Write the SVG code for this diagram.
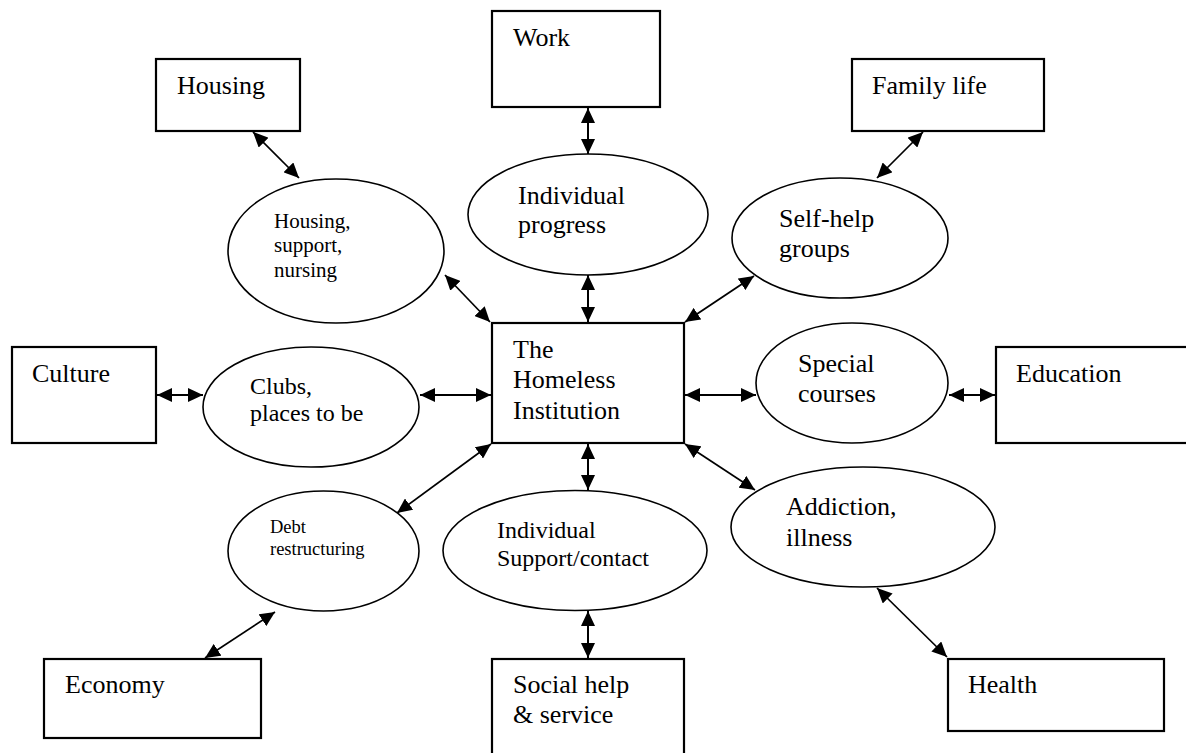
<svg xmlns="http://www.w3.org/2000/svg" width="1186" height="753" viewBox="0 0 1186 753" font-family="Liberation Serif, serif">
<style>
.box{fill:#fff;stroke:#000;stroke-width:2.2}
.ell{fill:#fff;stroke:#000;stroke-width:1.6}
.t26{font-family:"Liberation Serif",serif;font-size:26px;fill:#000}
.t24{font-family:"Liberation Serif",serif;font-size:24px;fill:#000}
.t21{font-family:"Liberation Serif",serif;font-size:21px;fill:#000}
.t18{font-family:"Liberation Serif",serif;font-size:18.5px;fill:#000}
.c{stroke:#000;stroke-width:2;fill:none;marker-start:url(#ah);marker-end:url(#ah)}
.d{stroke-width:1.7}
</style>
<defs>
<marker id="ah" markerUnits="userSpaceOnUse" markerWidth="16" markerHeight="14" refX="15" refY="7" orient="auto-start-reverse" viewBox="0 0 16 14">
<path d="M0,0 L15,7 L0,14 Z" fill="#000"/>
</marker>
</defs>
<rect width="1186" height="753" fill="#fff"/>
<g id="connectors">
<line class="c d" x1="253" y1="132" x2="299" y2="178"/>
<line class="c" x1="588" y1="108" x2="588" y2="154"/>
<line class="c d" x1="923" y1="132" x2="877" y2="178"/>
<line class="c d" x1="445" y1="275" x2="490" y2="322"/>
<line class="c" x1="588" y1="275" x2="588" y2="322"/>
<line class="c d" x1="754" y1="276" x2="685" y2="322"/>
<line class="c" x1="157" y1="395" x2="203" y2="395"/>
<line class="c" x1="420" y1="395" x2="491" y2="395"/>
<line class="c" x1="685" y1="395" x2="756" y2="395"/>
<line class="c" x1="949" y1="395" x2="995" y2="395"/>
<line class="c d" x1="491" y1="444" x2="397" y2="513"/>
<line class="c" x1="588" y1="444" x2="588" y2="490"/>
<line class="c d" x1="685" y1="444" x2="755" y2="490"/>
<line class="c d" x1="275" y1="612" x2="205" y2="658"/>
<line class="c" x1="588" y1="611" x2="588" y2="658"/>
<line class="c d" x1="877" y1="588" x2="947" y2="657"/>
</g>
<g id="housing">
<rect class="box" x="156" y="59" width="144" height="72"/>
<text class="t26" x="177" y="94">Housing</text>
</g>
<g id="work">
<rect class="box" x="492" y="11" width="168" height="96"/>
<text class="t26" x="513" y="46">Work</text>
</g>
<g id="family-life">
<rect class="box" x="852" y="59" width="192" height="72"/>
<text class="t26" x="872" y="94">Family life</text>
</g>
<g id="housing-support">
<ellipse class="ell" cx="336" cy="251" rx="108" ry="72"/>
<text class="t21" x="274" y="228">Housing,</text>
<text class="t21" x="274" y="252">support,</text>
<text class="t21" x="274" y="277">nursing</text>
</g>
<g id="individual-progress">
<ellipse class="ell" cx="588" cy="214.5" rx="120" ry="60.5"/>
<text class="t26" x="518" y="204">Individual</text>
<text class="t26" x="518" y="233">progress</text>
</g>
<g id="self-help">
<ellipse class="ell" cx="840" cy="238" rx="108" ry="60"/>
<text class="t26" x="779" y="227">Self-help</text>
<text class="t26" x="779" y="257">groups</text>
</g>
<g id="culture">
<rect class="box" x="12" y="347" width="144" height="96"/>
<text class="t26" x="32" y="382">Culture</text>
</g>
<g id="clubs">
<ellipse class="ell" cx="311" cy="407" rx="108" ry="60"/>
<text class="t24" x="250" y="394">Clubs,</text>
<text class="t24" x="250" y="421">places to be</text>
</g>
<g id="institution">
<rect class="box" x="492" y="323" width="192" height="120"/>
<text class="t26" x="513" y="358">The</text>
<text class="t26" x="513" y="388">Homeless</text>
<text class="t26" x="513" y="419">Institution</text>
</g>
<g id="special-courses">
<ellipse class="ell" cx="852" cy="383" rx="96" ry="60"/>
<text class="t26" x="798" y="372">Special</text>
<text class="t26" x="798" y="402">courses</text>
</g>
<g id="education">
<rect class="box" x="996" y="347" width="200" height="96"/>
<text class="t26" x="1016" y="382">Education</text>
</g>
<g id="debt">
<ellipse class="ell" cx="323.5" cy="551" rx="95.5" ry="60"/>
<text class="t18" x="270" y="533">Debt</text>
<text class="t18" x="270" y="555">restructuring</text>
</g>
<g id="individual-support">
<ellipse class="ell" cx="575" cy="550.5" rx="132" ry="60"/>
<text class="t24" x="497" y="538">Individual</text>
<text class="t24" x="497" y="566">Support/contact</text>
</g>
<g id="addiction">
<ellipse class="ell" cx="863" cy="527" rx="132" ry="60"/>
<text class="t26" x="786" y="515">Addiction,</text>
<text class="t26" x="786" y="546">illness</text>
</g>
<g id="economy">
<rect class="box" x="44" y="659" width="217" height="79"/>
<text class="t26" x="65" y="693">Economy</text>
</g>
<g id="social-help">
<rect class="box" x="492" y="659" width="192" height="110"/>
<text class="t26" x="513" y="693">Social help</text>
<text class="t26" x="513" y="723">&amp; service</text>
</g>
<g id="health">
<rect class="box" x="948" y="659" width="216" height="72"/>
<text class="t26" x="968" y="693">Health</text>
</g>
</svg>
